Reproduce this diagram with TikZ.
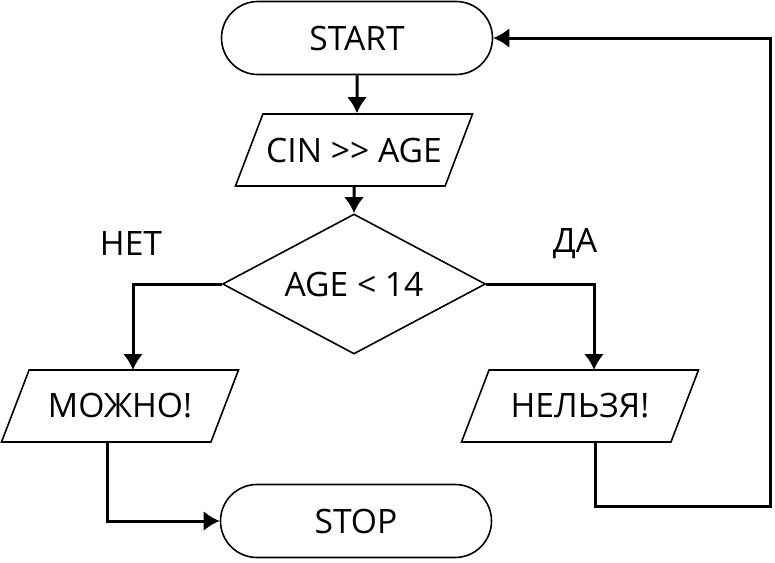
\documentclass[tikz,border=0pt]{standalone}
\usepackage{fontspec}
\setmainfont{Open Sans}
\usetikzlibrary{arrows.meta}
\usetikzlibrary{shapes.geometric}
\usetikzlibrary{shapes.misc}

\begin{document}
\begin{tikzpicture}[
    x=0.5pt, y=-0.5pt,
    every node/.style={font=\fontsize{16.8}{20}\selectfont},
    flow/.style={line width=1.5pt, -{Latex[length=8pt, width=10pt]}},
    terminal/.style={rounded rectangle, draw=black, line width=0.8pt, 
        minimum width=135.5pt, minimum height=36.5pt, inner sep=0},
    io/.style={trapezium, trapezium left angle=42, trapezium right angle=138,
        trapezium stretches body=true, draw=black, line width=0.8pt,
        minimum width=118.5pt, minimum height=36pt, inner sep=0},
    cond/.style={diamond, draw=black, line width=0.8pt, aspect=1.88,
        minimum width=131.5pt, minimum height=70pt, inner sep=0},
    ]

    \useasboundingbox (0,0) rectangle (775,562);

    \node (start) [terminal] at (357,38) {START};
    \node (cin) [io] at (354,150) {CIN >{}> AGE};
    \node (age) [cond] at (354,284) {AGE < 14};
    \node (no) at (131,244) {НЕТ};
    \node (yes) at (575,244) {ДА};
    \node (mozhno) [io] at (120,406) {МОЖНО!};
    \node (nelzya) [io] at (580,406) {НЕЛЬЗЯ!};
    \node (stop) [terminal] at (356,521) {STOP};

    \coordinate (back) at (770,506);

    \draw [flow] (start) -- (start|-cin.north);
    \draw [flow] (cin) -- (age);
    \draw [flow] (age.west) -| (133,370);
    \draw [flow] (age.east) -| (594,370);
    \draw [flow] ([xshift=-6.5pt]mozhno.south) |- (stop.west);
    \draw [flow] ([xshift=7.5pt]nelzya.south) |- (back) |- (start.east);
\end{tikzpicture}
\end{document}
